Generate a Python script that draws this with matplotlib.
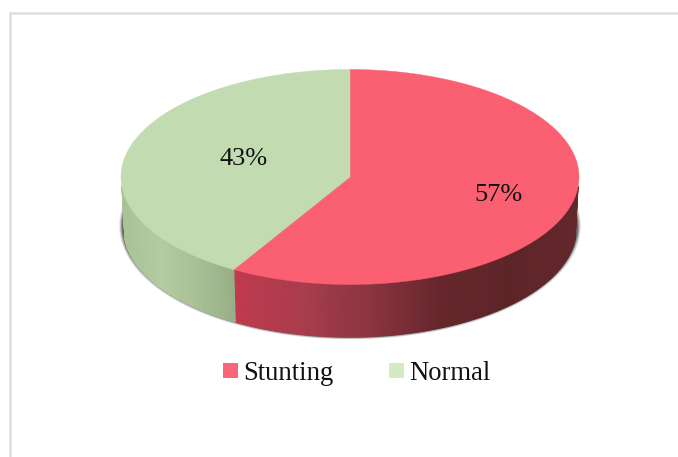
import numpy as np
import matplotlib
matplotlib.use("Agg")
import matplotlib.pyplot as plt
from matplotlib.patches import Polygon, Rectangle
from matplotlib.colors import LinearSegmentedColormap

labels = ["Stunting", "Normal"]
values = [57, 43]
pct_labels = ["57%", "43%"]
top_colors = ["#FB6072", "#C3DBB0"]
legend_colors = ["#FC6478", "#D3EAC2"]
side_stops = [
    ["#C23A4E", "#A83D4D", "#8A3440", "#66262C", "#5E2529", "#63272C"],
    ["#A9C296", "#B5CBA2", "#A8C095", "#99AE88"],
]

W, H = 678, 457
cx, cy, rx, ry = 350, 177, 229, 107.5
bcx, bcy, brx, bry = 350, 229, 226, 108
skew = 5.3  # perspective shift of the lower seam on the top face

plt.rcParams["font.family"] = ["Liberation Serif", "DejaVu Serif"]
fig = plt.figure(figsize=(W / 100, H / 100), dpi=100)
ax = fig.add_axes([0, 0, 1, 1])
ax.set_xlim(0, W)
ax.set_ylim(H, 0)
ax.axis("off")

# frame: only the top and left edges are inside the picture
ax.plot([10, 10, W], [H, 13, 13], color="#DDDDDD", lw=1.8, solid_joinstyle="miter", zorder=1)


def ell(c_x, c_y, r_x, r_y, deg):
    t = np.radians(deg)
    return c_x + r_x * np.sin(t), c_y - r_y * np.cos(t)


def cmap_of(stops):
    return LinearSegmentedColormap.from_list("s", stops)


# soft drop shadow under the body, wider sideways than downward
t = np.linspace(0, 360, 361)
for gx, gy, a in [(5, 2.5, 0.08), (4.2, 2, 0.14), (3.4, 1.5, 0.2), (2.6, 1, 0.3), (1.8, 0.5, 0.4)]:
    sx, sy = ell(bcx, bcy - 3, brx + gx, bry + 3 + gy, t)
    ax.fill(sx, sy, color="#2A2A2A", alpha=a, lw=0, zorder=2)

# slice angles, clockwise from 12 o'clock
seam = values[0] / sum(values) * 360 + skew
spans = [(0, seam), (seam, 360)]

# side walls: vertical gradient strips between top and bottom rims
for (a0, a1), stops in zip(spans, side_stops):
    cm = cmap_of(stops)
    lo, hi = max(a0, 95), min(a1, 265)
    angs = np.linspace(lo, hi, 240)
    xs = np.sin(np.radians(angs))
    x0, x1 = xs.min(), xs.max()
    for i in range(len(angs) - 1):
        p = [
            ell(cx, cy, rx, ry, angs[i]), ell(cx, cy, rx, ry, angs[i + 1]),
            ell(bcx, bcy, brx, bry, angs[i + 1]), ell(bcx, bcy, brx, bry, angs[i]),
        ]
        f = (0.5 * (xs[i] + xs[i + 1]) - x0) / (x1 - x0)
        ax.add_patch(Polygon(p, closed=True, fc=cm(f), ec=cm(f), lw=0.7, zorder=3))

# top face
for (a0, a1), col in zip(spans, top_colors):
    angs = np.linspace(a0, a1, 300)
    px, py = ell(cx, cy, rx, ry, angs)
    ax.fill(np.r_[cx, px], np.r_[cy, py], color=col, lw=0.3, zorder=4)

# percentage labels
ax.text(498, 195, pct_labels[0], fontsize=19, color="#111111", ha="center", va="center", zorder=5)
ax.text(244, 159, pct_labels[1], fontsize=19, color="#111111", ha="center", va="center", zorder=5)

# legend
for x_sq, x_txt, lab, col in zip([223, 389], [243, 409], labels, legend_colors):
    ax.add_patch(Rectangle((x_sq, 363), 15, 15, fc=col, ec="none", zorder=5))
    ax.text(x_txt, 373, lab, fontsize=19.2, color="#111111", ha="left", va="center", zorder=5)

fig.savefig("out.png", dpi=100)
